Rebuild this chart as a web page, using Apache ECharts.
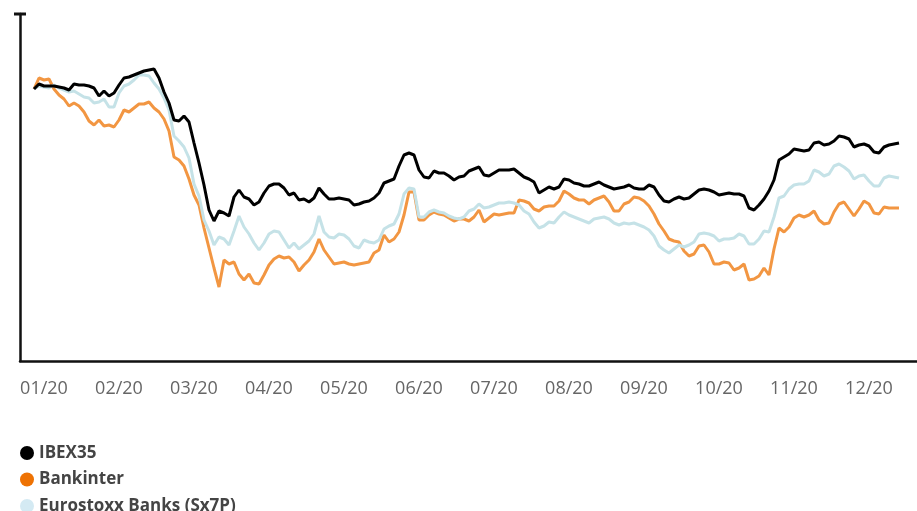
<!DOCTYPE html>
<html>
<head>
<meta charset="utf-8" />
<title>IBEX35 vs Bankinter vs Eurostoxx Banks 2020</title>
<script src="https://cdn.jsdelivr.net/npm/echarts@6/dist/echarts.min.js"></script>
<style>
  html, body { margin: 0; padding: 0; background: #fff; }
  #chart { width: 917px; height: 511px; }
</style>
</head>
<body>
<div id="chart"></div>
<script>
// month tick labels
const months = ["01/20", "02/20", "03/20", "04/20", "05/20", "06/20",
  "07/20", "08/20", "09/20", "10/20", "11/20", "12/20"];

// rebased to 100 on the first day, one value every ~1.5 sessions
const ibex35 = [
  100, 101.25, 100.75, 100.75, 100.75, 100.5, 100.25, 99.75, 101.25, 101,
  101, 100.75, 100.25, 98.25, 99.5, 98.25, 99, 101, 102.75, 103,
  103.5, 104, 104.5, 104.75, 105, 102.75, 99.25, 96.5, 92.25, 92,
  93.25, 91.75, 86.5, 81.5, 76, 69.75, 67, 69.5, 69, 68.25,
  73, 74.75, 73, 72.5, 71, 71.75, 74, 75.75, 76.25, 76.25,
  75.25, 73.5, 74, 72.25, 72.5, 71.75, 72.75, 75.25, 73.75, 72.5,
  72.5, 72.75, 72.5, 72.25, 71, 71.25, 71.75, 72, 72.75, 74,
  76.5, 77, 77.5, 80.75, 83.5, 84, 83.5, 79.75, 78, 77.75,
  79.5, 79, 79, 78.25, 77.25, 78, 78.25, 79.5, 80, 80.5,
  78.5, 78.25, 79, 79.75, 79.75, 79.75, 80, 79, 78, 77.5,
  76.75, 74, 74.75, 75.5, 75, 75.5, 77.5, 77.25, 76.5, 76.25,
  75.75, 75.75, 76.25, 76.75, 76, 75.5, 75, 75.25, 75.5, 76,
  75.25, 75, 75, 76, 75.5, 73.5, 72, 71.75, 72.5, 73,
  72.5, 72.75, 73.75, 74.75, 75, 74.75, 74.25, 73.5, 73.75, 74,
  73.75, 73.75, 73.25, 70.25, 69.75, 71, 72.5, 74.5, 77.25, 82.25,
  83, 83.75, 85, 84.75, 84.5, 84.75, 86.5, 86.75, 86, 86.25,
  87, 88.25, 88, 87.5, 85.5, 86, 86.25, 85.75, 84.25, 84,
  85.5, 86, 86.25, 86.5
];

const bankinter = [
  100, 102.75, 102.25, 102.5, 100, 98.5, 97.5, 95.75, 96.5, 95.75,
  94.25, 92, 91, 92.25, 90.75, 91, 90.5, 92.25, 94.75, 94.25,
  95.25, 96.25, 96.25, 96.75, 95.25, 94.25, 92.5, 89.5, 83, 82.25,
  80.75, 77.5, 73.5, 71, 65.25, 60.25, 55.25, 50.5, 57.25, 56.25,
  56.75, 53.75, 52.25, 53.75, 51.5, 51.25, 53.5, 56, 57.5, 58.25,
  57.75, 58, 56.75, 54.5, 56, 57.25, 59.25, 62.5, 59.75, 58,
  56.25, 56.5, 56.75, 56.25, 56, 56.25, 56.5, 56.75, 59, 59.75,
  63.5, 61.75, 62.5, 64.25, 68.5, 74.25, 74.25, 67.25, 67.25, 68.5,
  69.25, 68.75, 68.5, 67.75, 67, 67.5, 67.5, 67, 68, 69.75,
  66.75, 67.75, 68.75, 68.5, 68.75, 69, 69, 72.25, 72, 71.5,
  70, 69.5, 70.5, 70.75, 70.75, 72, 74.5, 73.75, 72.75, 72.25,
  72.25, 71.25, 72.25, 72.75, 73.25, 71.75, 69.5, 69.5, 71.25, 71.75,
  73, 72.75, 72, 70.75, 68.75, 66.25, 64.5, 62.5, 62, 61.75,
  59.5, 58.25, 58.75, 60.75, 61, 59.25, 56.25, 56.25, 56.75, 56.5,
  54.75, 55.25, 56.25, 52.25, 52.5, 53.25, 55.25, 53.5, 60, 65.25,
  64.25, 65.5, 67.75, 68.5, 68, 68.5, 69.5, 67.25, 66.25, 66.5,
  69.25, 71.25, 71.75, 70, 68.25, 70, 72, 71.25, 69, 68.75,
  70.5, 70.25, 70.25, 70.25
];

const sx7p = [
  100, 100.75, 100.5, 100.25, 101, 100.25, 99.75, 99.25, 99.5, 98.75,
  98, 97.75, 96.5, 96.75, 97.5, 95.5, 95.5, 99, 100.75, 101.25,
  102.25, 103.5, 103.5, 103.25, 101.5, 100, 97.75, 94.75, 88.25, 87,
  85.5, 82.75, 76.25, 73.25, 67.25, 64.5, 61, 63, 62.5, 61,
  64.5, 68.25, 65.5, 63.75, 61.5, 59.75, 61.5, 63.75, 64.5, 64.25,
  62.25, 60.25, 61.5, 60, 61, 62, 63.75, 68.25, 64.25, 63,
  62.75, 63.75, 63.5, 62.5, 60.75, 60.25, 62.25, 61.75, 61.5, 62.25,
  65, 65.75, 66.25, 68.75, 73.75, 75.25, 75, 68, 68, 69.25,
  69.75, 69.25, 69, 68.25, 67.75, 67.5, 68, 69.5, 70, 71.25,
  70.25, 70.5, 71, 71.5, 71.5, 71.75, 71.5, 71, 69.5, 68.75,
  66.75, 65.25, 65.75, 66.75, 66.5, 68, 69.25, 68.5, 68, 67.5,
  67, 66.5, 67.5, 67.75, 68, 67.5, 66.5, 66, 66.5, 66.25,
  66.5, 66, 65.5, 64.75, 63.25, 60.75, 59.75, 59, 60, 61,
  60.5, 61, 61.75, 63.75, 64, 63.75, 63.25, 62, 62.5, 62.5,
  62.75, 63.75, 63.25, 61.25, 61.25, 62.5, 64.5, 64.25, 68, 72.75,
  73.25, 75, 76, 76.25, 76.25, 77, 79.75, 79.25, 78.25, 78.75,
  80.75, 81.25, 80.5, 79.5, 77.5, 78.25, 78.5, 77, 75.75, 75.75,
  77.75, 78.25, 78, 77.75
];

const chart = echarts.init(document.getElementById("chart"));

// label k sits at sample index 2 + 15 * k
const monthPos = months.map((m, k) => 2 + 15 * k);
const toPoints = (arr) => arr.map((v, i) => [i, v]);

const option = {
  animation: false,
  grid: { left: 20, right: 0, top: 14, bottom: 150 },
  legend: {
    orient: "vertical",
    left: 20,
    top: 444.5,
    height: 100,
    padding: 0,
    icon: "circle",
    itemWidth: 14,
    itemHeight: 14,
    itemGap: 9.5,
    textStyle: {
      fontFamily: "Open Sans",
      fontWeight: "bold",
      fontSize: 17,
      lineHeight: 16,
      color: "#444",
    },
    data: ["IBEX35", "Bankinter", "Eurostoxx Banks (Sx7P)"],
  },
  xAxis: {
    type: "value",
    min: -2.8,
    max: 176.6,
    axisLine: { show: true, onZero: false, lineStyle: { color: "#111", width: 2.5 } },
    axisTick: { show: false },
    splitLine: { show: false },
    axisLabel: {
      customValues: monthPos,
      formatter: (val) => months[Math.round((val - 2) / 15)],
      margin: 19,
      fontFamily: "Open Sans",
      fontSize: 18,
      color: "#666",
    },
  },
  yAxis: {
    type: "value",
    min: 32,
    max: 118.75,
    axisLine: {
      show: true,
      onZero: false,
      symbol: ["none", "rect"],
      symbolSize: [12, 3],
      lineStyle: { color: "#111", width: 2.5 },
    },
    axisTick: { show: false },
    axisLabel: { show: false },
    splitLine: { show: false },
  },
  series: [
    {
      name: "IBEX35",
      type: "line",
      z: 4,
      showSymbol: false,
      data: toPoints(ibex35),
      itemStyle: { color: "#000" },
      lineStyle: { color: "#000", width: 3 },
    },
    {
      name: "Bankinter",
      type: "line",
      z: 2,
      showSymbol: false,
      data: toPoints(bankinter),
      itemStyle: { color: "#ee7203" },
      lineStyle: { color: "#f29642", width: 3 },
    },
    {
      name: "Eurostoxx Banks (Sx7P)",
      type: "line",
      z: 3,
      showSymbol: false,
      data: toPoints(sx7p),
      itemStyle: { color: "#d4eaf3" },
      lineStyle: { color: "#c5e2e7", width: 3 },
    },
  ],
};
chart.setOption(option);
</script>
</body>
</html>
